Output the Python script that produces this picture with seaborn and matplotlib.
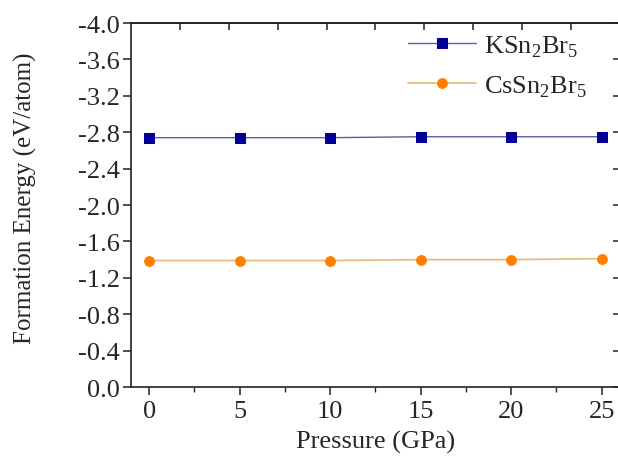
import numpy as np
import pandas as pd
import seaborn as sns
import matplotlib
matplotlib.use("Agg")
import matplotlib.pyplot as plt
from matplotlib.ticker import MultipleLocator, FixedLocator, NullFormatter

# Formation energy of the two bromides versus applied pressure
pressure = [0, 5, 10, 15, 20, 25]
ksn2br5_energy = [-2.74, -2.74, -2.74, -2.75, -2.75, -2.75]
cssn2br5_energy = [-1.39, -1.39, -1.39, -1.40, -1.40, -1.41]
series_labels = [r"KSn$_\mathregular{2}$Br$_\mathregular{5}$",
                 r"CsSn$_\mathregular{2}$Br$_\mathregular{5}$"]
y_ticks = [0.0, -0.4, -0.8, -1.2, -1.6, -2.0, -2.4, -2.8, -3.2, -3.6, -4.0]
x_ticks = [0, 5, 10, 15, 20, 25]

sns.set_theme(style="ticks")
plt.rcParams["font.family"] = ["Liberation Serif", "DejaVu Serif"]
plt.rcParams["mathtext.fontset"] = "custom"
plt.rcParams["mathtext.rm"] = "Liberation Serif"
plt.rcParams["axes.unicode_minus"] = False

FS = 19
fig = plt.figure(figsize=(6.18, 4.60), dpi=100)
ax = fig.add_axes([0.212, 0.1565, 0.791, 0.7913])

sns.lineplot(x=pressure, y=ksn2br5_energy, ax=ax, color="#5c5ca8", lw=1.0,
             marker="s", markersize=6.5, markerfacecolor="#000099",
             markeredgecolor="#000099", label=series_labels[0])
sns.lineplot(x=pressure, y=cssn2br5_energy, ax=ax, color="#e6b877", lw=1.2,
             marker="o", markersize=7, markerfacecolor="#ff8000",
             markeredgecolor="#ff8000", label=series_labels[1])

ax.set_xlim(-1, 26)
ax.set_ylim(0, -4.0)
ax.xaxis.set_major_locator(FixedLocator(x_ticks))
ax.xaxis.set_minor_locator(MultipleLocator(2.5))
ax.yaxis.set_major_locator(FixedLocator(y_ticks))
ax.set_yticklabels([f"{v:.1f}" for v in y_ticks])

ax.tick_params(axis="both", which="major", labelsize=FS, length=6, width=1.1,
               color="#222222", direction="out", pad=2)
ax.tick_params(axis="x", which="minor", length=3.5, width=1.0, direction="out")
ax.tick_params(axis="x", which="major", pad=3)

for sp in ax.spines.values():
    sp.set_visible(True)
    sp.set_linewidth(1.2)
    sp.set_color("#222222")

# mirrored tick marks pointing into the frame
top = ax.secondary_xaxis("top", functions=(lambda x: (np.asarray(x) + 1) / 27 * 10,
                                           lambda t: np.asarray(t) * 27 / 10 - 1))
top.xaxis.set_major_locator(FixedLocator(range(1, 10)))
top.xaxis.set_major_formatter(NullFormatter())
top.tick_params(direction="in", length=5, width=1.1, color="#222222")
right = ax.secondary_yaxis("right")
right.yaxis.set_major_locator(FixedLocator(y_ticks))
right.yaxis.set_major_formatter(NullFormatter())
right.tick_params(direction="in", length=5, width=1.1, color="#222222")

ax.set_xlabel("Pressure (GPa)", fontsize=FS, labelpad=6)
ax.set_ylabel("Formation Energy (eV/atom)", fontsize=18)
ax.yaxis.set_label_coords(-0.192, 0.522)

ax.legend(loc="upper left", bbox_to_anchor=(0.566, 0.972), frameon=False,
          fontsize=FS, handlelength=2.6, handletextpad=0.3, labelspacing=0.55,
          borderpad=0, borderaxespad=0)

fig.savefig("out.png", dpi=100)
